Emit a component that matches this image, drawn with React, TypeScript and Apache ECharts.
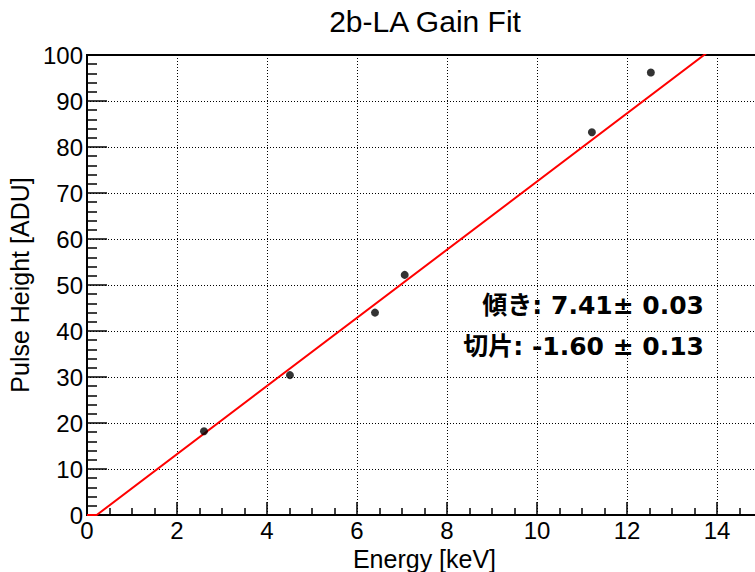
import React, { useEffect, useRef } from "react";
import * as echarts from "echarts";

// Measured calibration points
const energyKeV = [2.6, 4.51, 6.4, 7.06, 11.22, 12.53];
const pulseHeightADU = [18.2, 30.4, 44.0, 52.2, 83.2, 96.2];

// Linear fit result
const fitSlope = 7.41;
const fitSlopeErr = 0.03;
const fitIntercept = -1.6;
const fitInterceptErr = 0.13;

// Axis ranges
const xRange = [0, 15];
const yRange = [0, 100];

const titleText = "2b-LA Gain Fit";
const xTitle = "Energy [keV]";
const yTitle = "Pulse Height [ADU]";
const slopeLabel = `傾き: ${fitSlope.toFixed(2)}± ${fitSlopeErr.toFixed(2)}`;
const interceptLabel = `切片: ${fitIntercept.toFixed(2)} ± ${fitInterceptErr.toFixed(2)}`;

const FONT = "'Liberation Sans', Arial, Helvetica, sans-serif";
const NOTE_FONT = "'DejaVu Sans', 'Noto Sans CJK JP', sans-serif";

function fitValue(x: number): number {
  return fitSlope * x + fitIntercept;
}

export default function App() {
  const ref = useRef<HTMLDivElement>(null);

  useEffect(() => {
    if (!ref.current) return;
    const chart = echarts.init(ref.current, undefined, { renderer: "svg" });

    // Fit curve, held at the frame floor where it would go negative
    const xZero = -fitIntercept / fitSlope;
    const fitLine = [
      [xRange[0], Math.max(yRange[0], fitValue(xRange[0]))],
      [xZero, yRange[0]],
      [xRange[1], fitValue(xRange[1])],
    ];

    const points = energyKeV.map((e, i) => [e, pulseHeightADU[i]]);

    const gridLine = { color: "#000", width: 1, type: [1, 2] as number[] };

    chart.setOption({
      animation: false,
      backgroundColor: "#fff",
      title: {
        text: titleText,
        left: 425,
        top: 6,
        textAlign: "center",
        padding: 0,
        textStyle: { fontFamily: FONT, fontSize: 30, fontWeight: "normal", color: "#000" },
      },
      grid: {
        left: 87,
        right: -7,
        top: 55,
        bottom: 57,
        outerBoundsMode: "none",
        containLabel: false,
        show: true,
        borderColor: "#000",
        borderWidth: 2,
        backgroundColor: "transparent",
      },
      xAxis: {
        type: "value",
        min: xRange[0],
        max: xRange[1],
        interval: 2,
        name: xTitle,
        nameLocation: "middle",
        nameGap: 22,
        nameTextStyle: { fontFamily: FONT, fontSize: 25, color: "#000" },
        axisLine: { show: true, onZero: false, lineStyle: { color: "#000", width: 2 } },
        axisTick: { show: true, inside: true, length: 13, lineStyle: { color: "#000", width: 1.5 } },
        minorTick: { show: true, splitNumber: 4, length: 7, lineStyle: { color: "#000", width: 1.5 } },
        axisLabel: {
          show: true,
          margin: 3,
          fontFamily: FONT,
          fontSize: 24,
          color: "#000",
          showMaxLabel: false,
          formatter: (v: number) => (v % 2 === 0 && v <= 14 ? String(v) : ""),
        },
        splitLine: { show: true, lineStyle: gridLine },
      },
      yAxis: {
        type: "value",
        min: yRange[0],
        max: yRange[1],
        interval: 10,
        name: yTitle,
        nameLocation: "middle",
        nameGap: 52,
        nameTextStyle: { fontFamily: FONT, fontSize: 25, color: "#000" },
        axisLine: { show: true, onZero: false, lineStyle: { color: "#000", width: 2 } },
        axisTick: { show: true, inside: true, length: 20, lineStyle: { color: "#000", width: 1.5 } },
        minorTick: { show: true, splitNumber: 5, length: 10, lineStyle: { color: "#000", width: 1.5 } },
        axisLabel: {
          show: true,
          margin: 4,
          fontFamily: FONT,
          fontSize: 24,
          color: "#000",
        },
        splitLine: { show: true, lineStyle: gridLine },
      },
      series: [
        {
          type: "line",
          name: "fit",
          data: fitLine,
          showSymbol: false,
          symbol: "none",
          lineStyle: { color: "#ff0000", width: 2 },
          clip: true,
          z: 3,
        },
        {
          type: "scatter",
          name: "data",
          data: points,
          symbol: "circle",
          symbolSize: 8,
          itemStyle: { color: "#000" },
          z: 4,
        },
      ],
      graphic: [
        {
          type: "text",
          right: 755 - 704,
          top: 293,
          style: {
            text: slopeLabel,
            fontFamily: NOTE_FONT,
            fontWeight: "bold",
            fontSize: 25,
            fill: "#000",
          },
          z: 10,
        },
        {
          type: "text",
          right: 755 - 704,
          top: 334,
          style: {
            text: interceptLabel,
            fontFamily: NOTE_FONT,
            fontWeight: "bold",
            fontSize: 25,
            fill: "#000",
          },
          z: 10,
        },
      ],
    });

    return () => chart.dispose();
  }, []);

  return (
    <div
      ref={ref}
      style={{ position: "fixed", left: 0, top: 0, width: 755, height: 572, background: "#fff" }}
    />
  );
}
